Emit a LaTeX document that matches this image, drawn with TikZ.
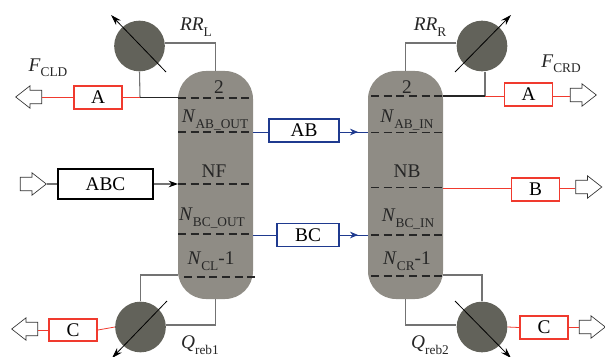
\documentclass[tikz,border=0pt]{standalone}
\usepackage{fontspec}
\setmainfont{Liberation Serif}
\usetikzlibrary{arrows.meta,shapes.arrows}
\newcommand{\sublab}[2]{\textit{#1}\raisebox{-0.28em}{\fontsize{10}{10}\selectfont #2}}
\tikzset{
  column/.style={fill=colgray,draw=none,rounded corners=21pt,minimum width=56.25pt,minimum height=171pt,inner sep=0pt},
  exchanger/.style={circle,fill=hxgray,draw=none,minimum size=38pt,inner sep=0pt},
  redbox/.style={draw=boxred,line width=1.3pt,fill=white,minimum width=36pt,minimum height=17pt,inner sep=0pt},
  bluebox/.style={draw=boxblue,line width=1.2pt,fill=white,minimum height=17pt,inner sep=0pt},
  flowout/.style={single arrow,draw=black!80,fill=white,line width=0.5pt,minimum height=19.5pt,inner xsep=0pt,inner ysep=4.8pt,single arrow head extend=3.3pt,single arrow head indent=0pt,single arrow tip angle=76},
  tray/.style={dashed,dash pattern=on 6pt off 3.5pt,line width=0.9pt,black!85},
  pipe/.style={line width=0.8pt,black!55},
  redpipe/.style={line width=0.6pt,boxred},
  bluepipe/.style={line width=0.6pt,boxblue},
  adjust/.style={line width=0.6pt,-{Stealth[length=8pt,width=5pt]}},
  lab/.style={inner sep=0pt,text=black!85}
}
\definecolor{colgray}{HTML}{8F8C85}
\definecolor{hxgray}{HTML}{62625A}
\definecolor{boxred}{HTML}{F03A2E}
\definecolor{boxblue}{HTML}{1F3A8F}
\begin{document}
\begin{tikzpicture}[x=0.75pt,y=-0.75pt,font=\fontsize{14.5}{16}\selectfont]
\useasboundingbox (0,0) rectangle (605,356);
% columns
\node[column] (colL) at (215.5,185) {};
\node[column] (colR) at (405.5,185) {};
% heat exchangers
\node[exchanger] (condL) at (139.5,46) {};
\node[exchanger] (condR) at (482,46) {};
\node[exchanger] (rebL) at (140.5,327) {};
\node[exchanger] (rebR) at (482,327) {};
% boxes
\node[redbox] (AL) at (98,97.5) {A};
\node[redbox] (AR) at (528.5,94.5) {A};
\node[redbox] (BR) at (535.5,189.5) {B};
\node[redbox] (CL) at (73,330) {C};
\node[redbox] (CR) at (544,327.5) {C};
\node[bluebox,minimum width=52.5pt] (AB) at (304,130.5) {AB};
\node[bluebox,minimum width=46.5pt] (BC) at (308,235) {BC};
\node[draw,line width=1.2pt,fill=white,minimum width=71pt,minimum height=22.5pt,inner sep=0pt] (ABC) at (105.5,184) {ABC};
% flows in and out
\node[flowout,shape border rotate=180] (outAL) at (33,97) {};
\node[flowout] (outAR) at (579,95) {};
\node[flowout] (outBR) at (584.5,187) {};
\node[flowout,shape border rotate=180] (outCL) at (29,329) {};
\node[flowout] (outCR) at (588,327) {};
\node[flowout] (inABC) at (29,184) {};
% tray positions
\coordinate (topL) at (178,97.5);
\coordinate (topR) at (443,96);
\coordinate (feedL) at (178,184);
\coordinate (sideBR) at (443,188);
\coordinate (abL) at (253,132);
\coordinate (abR) at (368,132);
\coordinate (abTip) at (358,132);
\coordinate (bcL) at (253,235);
\coordinate (bcR) at (368,235);
\coordinate (bcTip) at (358,235);
\coordinate (botL) at (178,275);
\coordinate (botR) at (443,275);
\coordinate (jointL) at (140,97.5);
\coordinate (jointR) at (485,96);
% left column piping
\draw[pipe] (condL.east |- 0,43) -| (colL.north);
\draw[pipe] (condL.south) -- (jointL);
\draw[line width=0.8pt,black!85] (jointL) -- (topL);
\draw[redpipe] (outAL.tail |- jointL) -- (AL.west);
\draw[redpipe] (AL.east) -- (jointL);
\draw[pipe] (botL) -| (rebL.north);
\draw[pipe] (colL.south) |- (rebL.east |- 0,325);
\draw[redpipe] (rebL.west) -- (CL.east);
\draw[redpipe] (CL.west) -- (outCL.tail |- CL.west);
\draw[pipe] (inABC.tip) -- (ABC.west);
\draw[pipe,-{Stealth[length=7pt,width=5pt,black]}] (ABC.east) -- (feedL);
% right column piping
\draw[pipe] (condR.west |- 0,43) -| (colR.north);
\draw[pipe] (jointR |- condR.south) -- (jointR);
\draw[line width=0.8pt,black!85] (jointR) -- (topR);
\draw[redpipe] (jointR) -- (AR.west |- jointR);
\draw[redpipe] (AR.east |- jointR) -- (outAR.tail |- jointR);
\draw[redpipe] (sideBR) -- (BR.west |- sideBR);
\draw[redpipe] (BR.east |- sideBR) -- (outBR.tail |- sideBR);
\draw[pipe] (botR) -| (rebR.north);
\draw[pipe] (colR.south) |- (rebR.west |- 0,325);
\draw[redpipe] (rebR.east) -- (CR.west);
\draw[redpipe] (CR.east) -- (outCR.tail |- CR.east);
% side streams
\draw[bluepipe] (abL) -- (AB.west |- abL);
\draw[bluepipe] (AB.east |- abL) -- (abR);
\draw[bluepipe,-{Stealth[length=6pt,width=5pt]}] (AB.east |- abL) -- (abTip);
\draw[bluepipe] (bcL) -- (BC.west |- bcL);
\draw[bluepipe] (BC.east |- bcL) -- (bcR);
\draw[bluepipe,-{Stealth[length=6pt,width=5pt]}] (BC.east |- bcL) -- (bcTip);
% trays
\foreach \y in {98,132,184,234}
  \draw[tray] (178,\y) -- (253,\y);
\draw[tray] (184,277) -- (255,277);
\foreach \y in {96,132.5,187.5,235,276}
  \draw[tray] (371,\y) -- (443,\y);
% adjust arrows
\draw[adjust] (166,72) -- (111,15);
\draw[adjust] (455,72) -- (511,15);
\draw[adjust] (167,301) -- (112,358);
\draw[adjust] (455,301) -- (511,358);
% labels
\node[lab] (sL) at (219,87) {2};
\node[lab] (sR) at (407,87) {2};
\node[lab] (nABo) at (215,120) {\sublab{N}{AB\_OUT}};
\node[lab] (nABi) at (407,120) {\sublab{N}{AB\_IN}};
\node[lab] (nF) at (214,171) {NF};
\node[lab] (nB) at (407,171) {NB};
\node[lab] (nBCo) at (212,218) {\sublab{N}{BC\_OUT}};
\node[lab] (nBCi) at (408,219) {\sublab{N}{BC\_IN}};
\node[lab] (nCL) at (211,261) {\sublab{N}{CL}-1};
\node[lab] (nCR) at (407,261) {\sublab{N}{CR}-1};
\node[lab] (rrL) at (196,27) {\sublab{RR}{L}};
\node[lab] (rrR) at (430,27) {\sublab{RR}{R}};
\node[lab] (fL) at (48,68) {\sublab{F}{CLD}};
\node[lab] (fR) at (561,64) {\sublab{F}{CRD}};
\node[lab] (qL) at (200,345) {\sublab{Q}{reb1}};
\node[lab] (qR) at (430,345) {\sublab{Q}{reb2}};
\end{tikzpicture}
\end{document}
